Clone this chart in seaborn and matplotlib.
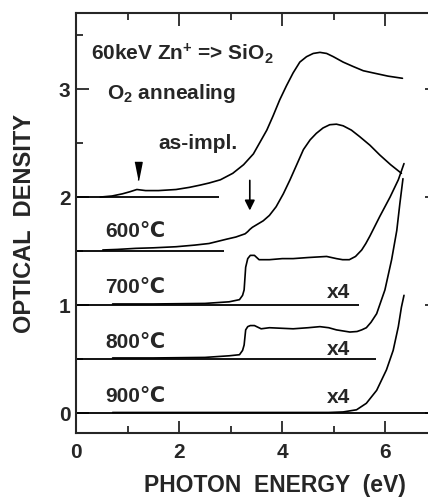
import numpy as np
import pandas as pd
import matplotlib
matplotlib.use('Agg')
import matplotlib.pyplot as plt
import seaborn as sns

# --- Data (photon energy in eV, optical density incl. offsets) ---
asimpl_e = [0.47, 0.70, 0.90, 1.05, 1.18, 1.35, 1.60, 1.94, 2.20, 2.40, 2.58, 2.80, 3.04, 3.25,
            3.44, 3.57, 3.70, 3.82, 3.95, 4.08, 4.21, 4.34, 4.47, 4.60, 4.73, 4.86, 4.99, 5.18,
            5.37, 5.57, 5.76, 6.05, 6.33]
asimpl_od = [2.00, 2.01, 2.03, 2.05, 2.07, 2.06, 2.06, 2.07, 2.09, 2.11, 2.13, 2.16, 2.22, 2.30,
             2.40, 2.51, 2.62, 2.75, 2.90, 3.03, 3.15, 3.25, 3.30, 3.33, 3.34, 3.33, 3.30, 3.25,
             3.21, 3.17, 3.15, 3.12, 3.10]

t600_e = [0.52, 0.80, 1.16, 1.50, 1.94, 2.30, 2.58, 2.92, 3.10, 3.28, 3.33, 3.37, 3.42, 3.63,
          3.75, 3.88, 4.02, 4.15, 4.28, 4.41, 4.54, 4.66, 4.79, 4.92, 5.05, 5.18, 5.34, 5.50,
          5.70, 5.89, 6.10, 6.31]
t600_od = [1.51, 1.515, 1.525, 1.53, 1.54, 1.555, 1.57, 1.61, 1.63, 1.66, 1.68, 1.70, 1.72, 1.78,
           1.83, 1.91, 2.03, 2.16, 2.30, 2.44, 2.53, 2.59, 2.64, 2.67, 2.675, 2.66, 2.62, 2.56,
           2.48, 2.39, 2.30, 2.22]

t700_e = [0.71, 1.50, 2.50, 2.97, 3.17, 3.23, 3.26, 3.29, 3.33, 3.38, 3.46, 3.55, 3.75, 4.00,
          4.21, 4.50, 4.86, 5.05, 5.17, 5.30, 5.42, 5.54, 5.62, 5.70, 5.89, 6.09, 6.25, 6.36]
t700_od = [1.01, 1.01, 1.015, 1.03, 1.05, 1.09, 1.14, 1.35, 1.43, 1.46, 1.46, 1.42, 1.42, 1.43,
           1.43, 1.44, 1.45, 1.43, 1.42, 1.42, 1.45, 1.51, 1.57, 1.64, 1.82, 2.00, 2.16, 2.31]

t800_e = [0.71, 1.50, 2.50, 2.97, 3.17, 3.23, 3.26, 3.29, 3.33, 3.38, 3.46, 3.59, 3.75, 4.21,
          4.50, 4.73, 4.90, 5.05, 5.31, 5.45, 5.54, 5.63, 5.72, 5.83, 5.99, 6.12, 6.22, 6.28, 6.34]
t800_od = [0.51, 0.51, 0.515, 0.53, 0.54, 0.58, 0.63, 0.77, 0.80, 0.81, 0.81, 0.78, 0.79, 0.78,
           0.79, 0.80, 0.79, 0.77, 0.75, 0.755, 0.77, 0.79, 0.84, 0.92, 1.14, 1.42, 1.69, 1.94, 2.17]

t900_e = [0.71, 2.00, 3.50, 4.50, 4.90, 5.18, 5.44, 5.63, 5.83, 6.02, 6.15, 6.25, 6.31, 6.36]
t900_od = [0.005, 0.005, 0.005, 0.005, 0.005, 0.01, 0.03, 0.09, 0.21, 0.40, 0.58, 0.80, 0.98, 1.09]

samples = ['as-impl.', '600', '700', '800', '900']
baseline_od = [2.0, 1.5, 1.0, 0.5, 0.0]
baseline_end = [2.77, 2.87, 5.49, 5.81, 7.0]
temp_labels = ['600℃', '700℃', '800℃', '900℃']

df = pd.concat([
    pd.DataFrame({'energy': e, 'od': od, 'sample': s})
    for s, e, od in zip(samples,
                        [asimpl_e, t600_e, t700_e, t800_e, t900_e],
                        [asimpl_od, t600_od, t700_od, t800_od, t900_od])
], ignore_index=True)

# --- Style ---
sns.set_style('ticks')
plt.rcParams['font.family'] = ['Liberation Sans', 'DejaVu Sans']
plt.rcParams['font.weight'] = 'bold'
plt.rcParams['mathtext.fontset'] = 'custom'
plt.rcParams['mathtext.bf'] = 'Liberation Sans:bold'
plt.rcParams['mathtext.rm'] = 'Liberation Sans:bold'
plt.rcParams['mathtext.default'] = 'bf'

fig = plt.figure(figsize=(4.28, 4.97), dpi=100)
ax = fig.add_axes([76 / 428, 64 / 497, 361 / 428, 419.5 / 497])

sns.lineplot(data=df, x='energy', y='od', units='sample', estimator=None,
             color='black', lw=1.2, sort=False, ax=ax, legend=False)
ax.hlines(baseline_od, 0, baseline_end, color='black', lw=1.3)

ax.set_xlim(0, 7)
ax.set_ylim(-0.185, 3.70)
ax.set_xticks([0, 2, 4, 6])
ax.set_xticks([1, 3, 5], minor=True)
ax.set_yticks([0, 1, 2, 3])
ax.set_yticks([0.5, 1.5, 2.5, 3.5], minor=True)
ax.tick_params(which='both', direction='in', top=True, right=True, width=1.3, labelsize=15)
ax.tick_params(which='major', length=9)
ax.tick_params(which='minor', length=5)
ax.tick_params(axis='x', pad=7)
ax.tick_params(axis='y', pad=4)
for sp in ax.spines.values():
    sp.set_linewidth(1.5)
for lab in ax.get_xticklabels() + ax.get_yticklabels():
    lab.set_fontweight('bold')

ax.set_xlabel('PHOTON  ENERGY  (eV)', fontsize=16.5, fontweight='bold')
ax.set_ylabel('OPTICAL  DENSITY', fontsize=17, fontweight='bold')
ax.xaxis.set_label_coords(0.551, -0.097)
ax.yaxis.set_label_coords(-0.112, 0.5)

# --- Annotations ---
fs = 15
ax.text(0.30, 3.27, r'60keV Zn$^{+}$ => SiO$_{2}$', fontsize=fs, fontweight='bold')
ax.text(0.595, 2.91, r'O$_{2}$ annealing', fontsize=fs, fontweight='bold')
ax.text(1.59, 2.445, 'as-impl.', fontsize=fs, fontweight='bold')
for txt, yb in zip(temp_labels, [1.633, 1.108, 0.599, 0.105]):
    ax.text(0.56, yb, txt, fontsize=fs, fontweight='bold')
for yb in [1.062, 0.537, 0.09]:
    ax.text(4.86, yb, 'x4', fontsize=fs, fontweight='bold')

ax.plot(1.20, 2.245, marker=[(-0.4, 1), (0.4, 1), (0, -1)], ms=13, color='black', ls='none')
ax.annotate('', xy=(3.37, 1.85), xytext=(3.37, 2.18),
            arrowprops=dict(arrowstyle='-|>', color='black', lw=1.2, mutation_scale=15))

fig.savefig('out.png', dpi=100)
